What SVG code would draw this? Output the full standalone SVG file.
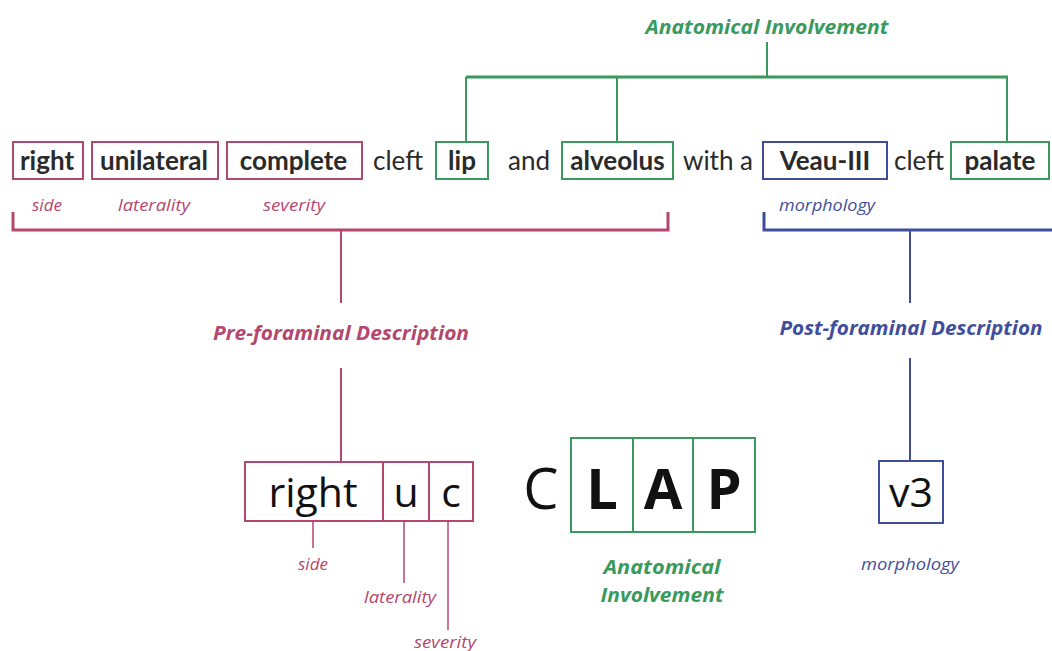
<svg xmlns="http://www.w3.org/2000/svg" width="1052" height="651" viewBox="0 0 1052 651">
<style>
.bg{fill:#ffffff}
.pk{stroke:#b3476f;fill:none}
.gr{stroke:#3a9a5e;fill:none}
.bl{stroke:#3f4e9c;fill:none}
.bx{stroke-width:2}
.ln{stroke-width:2}
.br{stroke-width:3}
.w{font-family:Lato,"Open Sans",sans-serif;font-size:26px;fill:#2a2a2a;text-anchor:middle}
.wb{font-weight:bold}
.lab{font-family:"Open Sans",sans-serif;font-style:italic;font-size:16px;text-anchor:middle}
.ttl{font-family:"Open Sans",sans-serif;font-style:italic;font-weight:bold;font-size:20px;text-anchor:middle}
.big{font-family:"Open Sans",sans-serif;font-size:41px;fill:#111;text-anchor:middle}
.clap{font-family:"Open Sans",sans-serif;font-size:56px;fill:#111;text-anchor:middle}
.tp{fill:#b3476f}.tg{fill:#3a9a5e}.tb{fill:#3f4e9c}
</style>
<rect class="bg" x="0" y="0" width="1052" height="651"/>

<g id="connectors">
  <line class="gr ln" x1="767" y1="42" x2="767" y2="77"/>
  <line class="gr br" x1="466" y1="77" x2="1008" y2="77"/>
  <line class="gr ln" x1="466" y1="77" x2="466" y2="143"/>
  <line class="gr ln" x1="617" y1="77" x2="617" y2="143"/>
  <line class="gr ln" x1="1007" y1="77" x2="1007" y2="143"/>
  <polyline class="pk br" points="13,212 13,230 668,230 668,212"/>
  <line class="pk ln" x1="341" y1="230" x2="341" y2="303"/>
  <line class="pk ln" x1="341" y1="368" x2="341" y2="462"/>
  <polyline class="bl br" points="764,212 764,230 1052,230"/>
  <line class="bl ln" x1="910" y1="230" x2="910" y2="303"/>
  <line class="bl ln" x1="910" y1="358" x2="910" y2="461"/>
  <line class="pk" stroke-width="1.5" x1="313" y1="521" x2="313" y2="548"/>
  <line class="pk" stroke-width="1.5" x1="404" y1="521" x2="404" y2="583"/>
  <line class="pk" stroke-width="1.5" x1="448" y1="521" x2="448" y2="630"/>
</g>

<g id="title-anatomical">
  <text class="ttl tg" x="767" y="34" textLength="243" lengthAdjust="spacingAndGlyphs">Anatomical Involvement</text>
</g>

<g id="sentence">
  <g id="n-right"><rect class="pk bx" x="13" y="142" width="70" height="37"/><text class="w wb" x="47" y="170">right</text></g>
  <g id="n-unilateral"><rect class="pk bx" x="92" y="142" width="126" height="37"/><text class="w wb" x="154" y="170">unilateral</text></g>
  <g id="n-complete"><rect class="pk bx" x="227" y="142" width="135" height="37"/><text class="w wb" x="293.5" y="170">complete</text></g>
  <text class="w" x="398" y="170">cleft</text>
  <g id="n-lip"><rect class="gr bx" x="436" y="142" width="52" height="37"/><text class="w wb" x="462" y="170">lip</text></g>
  <text class="w" x="529" y="170">and</text>
  <g id="n-alveolus"><rect class="gr bx" x="562" y="142" width="111" height="37"/><text class="w wb" x="617.5" y="170">alveolus</text></g>
  <text class="w" x="718" y="170">with a</text>
  <g id="n-veau"><rect class="bl bx" x="763" y="142" width="124" height="37"/><text class="w wb" x="825" y="170">Veau-III</text></g>
  <text class="w" x="919" y="170">cleft</text>
  <g id="n-palate"><rect class="gr bx" x="951" y="142" width="98" height="37"/><text class="w wb" x="1000" y="170">palate</text></g>
</g>

<g id="sentence-labels">
  <text class="lab tp" x="47" y="211" textLength="30" lengthAdjust="spacingAndGlyphs">side</text>
  <text class="lab tp" x="154" y="211" textLength="72" lengthAdjust="spacingAndGlyphs">laterality</text>
  <text class="lab tp" x="294" y="211" textLength="62" lengthAdjust="spacingAndGlyphs">severity</text>
  <text class="lab tb" x="827" y="211" textLength="96" lengthAdjust="spacingAndGlyphs">morphology</text>
</g>

<g id="pre-foraminal">
  <text class="ttl tp" x="341" y="340" textLength="256" lengthAdjust="spacingAndGlyphs">Pre-foraminal Description</text>
</g>
<g id="post-foraminal">
  <text class="ttl tb" x="911" y="335" textLength="263" lengthAdjust="spacingAndGlyphs">Post-foraminal Description</text>
</g>

<g id="code-pre">
  <rect class="pk bx" x="245" y="462" width="228" height="59"/>
  <line class="pk bx" x1="383" y1="462" x2="383" y2="521"/>
  <line class="pk bx" x1="429" y1="462" x2="429" y2="521"/>
  <text class="big" x="313" y="507">right</text>
  <text class="big" x="406" y="507">u</text>
  <text class="big" x="451" y="507">c</text>
  <text class="lab tp" x="313" y="570" textLength="30" lengthAdjust="spacingAndGlyphs">side</text>
  <text class="lab tp" x="400" y="603" textLength="72" lengthAdjust="spacingAndGlyphs">laterality</text>
  <text class="lab tp" x="445" y="648" textLength="62" lengthAdjust="spacingAndGlyphs">severity</text>
</g>

<g id="code-clap">
  <text class="clap" x="541" y="509">C</text>
  <rect class="gr bx" x="571" y="438" width="184" height="94"/>
  <line class="gr bx" x1="633" y1="438" x2="633" y2="532"/>
  <line class="gr bx" x1="693" y1="438" x2="693" y2="532"/>
  <text class="clap wb" x="602" y="509">L</text>
  <text class="clap wb" x="663" y="509">A</text>
  <text class="clap wb" x="724" y="509">P</text>
  <text class="ttl tg" x="662" y="574" textLength="117" lengthAdjust="spacingAndGlyphs">Anatomical</text>
  <text class="ttl tg" x="662" y="602" textLength="123" lengthAdjust="spacingAndGlyphs">Involvement</text>
</g>

<g id="code-post">
  <rect class="bl bx" x="879" y="461" width="64" height="62"/>
  <text class="big" x="911" y="507">v3</text>
  <text class="lab tb" x="910" y="570" textLength="98" lengthAdjust="spacingAndGlyphs">morphology</text>
</g>
</svg>
